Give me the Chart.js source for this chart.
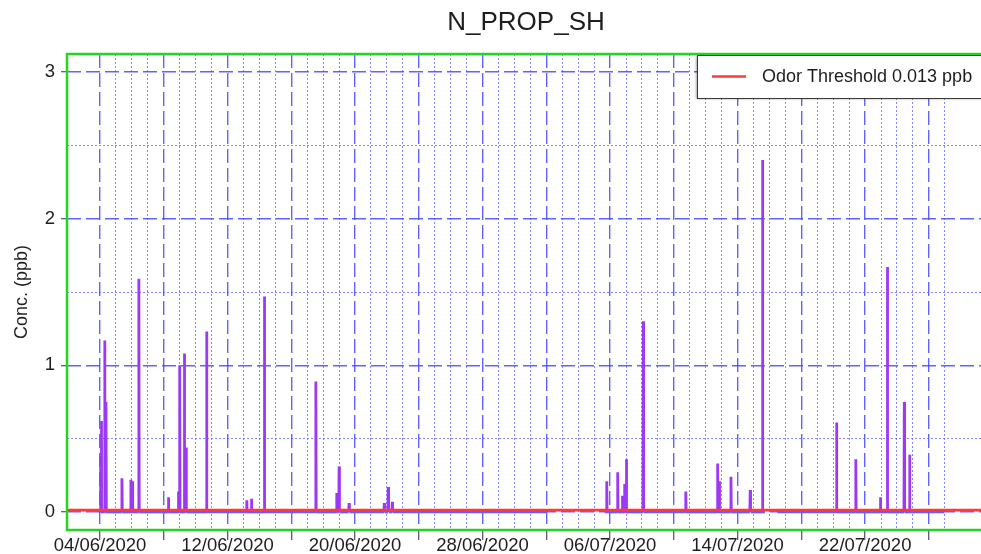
<!DOCTYPE html>
<html>
<head>
<meta charset="utf-8">
<script src="https://cdn.jsdelivr.net/npm/chart.js@4.4.1/dist/chart.umd.min.js"></script>
<style>
html,body{margin:0;padding:0;overflow:hidden;background:#fff;}
#wrap{width:1052px;height:554px;}
canvas{display:block;}
</style>
</head>
<body>
<div id="wrap"><canvas id="c" width="1052" height="554"></canvas></div>
<script>
// ---------- data ----------
const chartTitle = 'N_PROP_SH';
const yAxisTitle = 'Conc. (ppb)';
const thresholdLabel = 'Odor Threshold 0.013 ppb';
const thresholdValue = 0.013;
// x axis in hours since 04/06/2020 00:00
const dateLabels = ['04/06/2020','12/06/2020','20/06/2020','28/06/2020','06/07/2020','14/07/2020','22/07/2020'];
const labelEveryDays = 8;
const majorEveryDays = 4;
const gridLastDay = 53;
const yTickValues = [0, 0.5, 1, 1.5, 2, 2.5, 3];
const recordStartHour = 0;
const recordEndHour = 1271;
const gapStartHours = [673, 1001];
const gapEndHours = [760, 1020];
const spikeHours = [1, 2, 7, 9, 33, 46.5, 49, 58.5, 103, 118, 120, 127, 129.5, 160.5, 221, 228, 247.5, 325, 356.5, 360, 375, 428, 434, 440, 763, 779.5, 786.5, 790, 792.5, 818, 882, 930, 932.5, 950, 979, 997.5, 1109, 1138, 1175, 1185.5, 1211, 1219];
const spikeValues = [0.38, 0.62, 1.17, 0.75, 0.23, 0.22, 0.21, 1.59, 0.10, 0.14, 1.00, 1.08, 0.44, 1.23, 0.08, 0.09, 1.47, 0.89, 0.13, 0.31, 0.06, 0.06, 0.17, 0.07, 0.21, 0.27, 0.11, 0.19, 0.36, 1.30, 0.14, 0.33, 0.21, 0.24, 0.15, 2.40, 0.61, 0.36, 0.10, 1.67, 0.75, 0.39];
const xMinHour = -49.7;
const xMaxHour = 1332.5;
const yMin = -0.123;
const yMax = 3.123;

// ---------- build series ----------
const events = [];
spikeHours.forEach((h, i) => events.push({h: h, type: 's', v: spikeValues[i]}));
gapStartHours.forEach((h, i) => events.push({h: h, type: 'g', e: gapEndHours[i]}));
events.sort((a, b) => a.h - b.h);
const seriesPts = [{x: recordStartHour, y: 0}];
for (const ev of events) {
  if (ev.type === 's') {
    seriesPts.push({x: ev.h - 0.5, y: 0}, {x: ev.h, y: ev.v}, {x: ev.h + 0.5, y: 0});
  } else {
    seriesPts.push({x: ev.h, y: 0}, {x: (ev.h + ev.e) / 2, y: null}, {x: ev.e, y: 0});
  }
}
seriesPts.push({x: recordEndHour, y: 0});

// ---------- styles ----------
const FONT = "'Liberation Sans', Arial, sans-serif";
const TEXT = '#1e1e1e';
const MAJOR_GRID = 'rgba(70,70,255,0.85)';
const MINOR_GRID = 'rgba(90,90,255,0.72)';
const SPIKE = '#9d38f5';
const BASE = '#5e5eff';
const RED = '#ff3838';
const GREEN = '#22d622';

const isMajorX = v => Math.abs((v / 24) % majorEveryDays) < 1e-6;
const isMajorY = v => Math.abs(v - Math.round(v)) < 1e-6;

const framePlugin = {
  id: 'frameAndLegend',
  afterDatasetsDraw(chart) {
    const a = chart.chartArea, ctx = chart.ctx;
    ctx.save();
    ctx.strokeStyle = GREEN;
    ctx.lineWidth = 2.5;
    ctx.strokeRect(a.left, a.top, a.right - a.left, a.bottom - a.top);
    // legend box
    const ds = chart.data.datasets[0];
    const bx = a.right - 288, by = a.top + 1, bw = 320, bh = 43;
    ctx.shadowColor = 'rgba(0,0,0,0.35)';
    ctx.shadowBlur = 2;
    ctx.shadowOffsetX = -1;
    ctx.shadowOffsetY = 1;
    ctx.fillStyle = '#fff';
    ctx.fillRect(bx, by, bw, bh);
    ctx.shadowColor = 'transparent';
    ctx.strokeStyle = '#3a3a3a';
    ctx.lineWidth = 1;
    ctx.strokeRect(bx + 0.5, by + 0.5, bw, bh);
    ctx.strokeStyle = ds.borderColor;
    ctx.lineWidth = 2.5;
    ctx.beginPath();
    ctx.moveTo(bx + 15, by + 21.5);
    ctx.lineTo(bx + 49, by + 21.5);
    ctx.stroke();
    ctx.fillStyle = TEXT;
    ctx.font = '18px ' + FONT;
    ctx.textBaseline = 'middle';
    ctx.textAlign = 'left';
    ctx.fillText(ds.label, bx + 65, by + 22.5);
    ctx.restore();
  }
};

new Chart(document.getElementById('c'), {
  type: 'line',
  data: {
    datasets: [
      {
        label: thresholdLabel,
        data: [{x: xMinHour, y: thresholdValue}, {x: xMaxHour, y: thresholdValue}],
        borderColor: RED,
        borderWidth: 2.8,
        pointRadius: 0,
        fill: false
      },
      {
        label: chartTitle,
        data: seriesPts,
        borderColor: SPIKE,
        borderWidth: 2.8,
        borderJoinStyle: 'bevel',
        pointRadius: 0,
        spanGaps: false,
        tension: 0,
        fill: false,
        segment: {
          borderColor: ctx => (ctx.p0.parsed.y === 0 && ctx.p1.parsed.y === 0) ? BASE : SPIKE
        }
      }
    ]
  },
  options: {
    responsive: false,
    animation: false,
    devicePixelRatio: 1,
    layout: {padding: 0},
    plugins: {
      legend: {display: false},
      tooltip: {enabled: false},
      title: {
        display: true,
        text: chartTitle,
        color: TEXT,
        font: {family: FONT, size: 26, weight: 'normal', lineHeight: 1.2},
        padding: {top: 7, bottom: 15.8}
      }
    },
    scales: {
      x: {
        type: 'linear',
        min: xMinHour,
        max: xMaxHour,
        afterBuildTicks: s => {
          const t = [];
          for (let d = 0; d <= gridLastDay; d++) t.push({value: d * 24});
          s.ticks = t;
        },
        afterFit: s => { s.height = 24; },
        ticks: {
          autoSkip: false,
          maxRotation: 0,
          padding: -5,
          color: TEXT,
          font: {family: FONT, size: 18.5},
          callback: v => {
            const d = Math.round(v / 24);
            return d % labelEveryDays === 0 ? (dateLabels[d / labelEveryDays] || '') : '';
          }
        },
        grid: {
          color: c => (c.tick && isMajorX(c.tick.value)) ? MAJOR_GRID : MINOR_GRID,
          lineWidth: c => (c.tick && isMajorX(c.tick.value)) ? 1.4 : 1,
          tickColor: c => (c.tick && isMajorX(c.tick.value)) ? '#4a4a7a' : 'rgba(0,0,0,0)',
          tickLength: 10,
          tickWidth: 1.2
        },
        border: {
          display: false,
          dash: c => c.tick ? (isMajorX(c.tick.value) ? [14, 5] : [2, 2]) : []
        }
      },
      y: {
        type: 'linear',
        position: 'left',
        min: yMin,
        max: yMax,
        afterBuildTicks: s => { s.ticks = yTickValues.map(v => ({value: v})); },
        afterFit: s => { s.width = 67; },
        ticks: {
          padding: 6,
          color: TEXT,
          font: {family: FONT, size: 18.5},
          callback: v => isMajorY(v) ? String(Math.round(v)) : ''
        },
        title: {
          display: true,
          text: yAxisTitle,
          color: TEXT,
          font: {family: FONT, size: 18},
          padding: {top: 11, bottom: 0}
        },
        grid: {
          color: c => (c.tick && isMajorY(c.tick.value)) ? MAJOR_GRID : MINOR_GRID,
          lineWidth: c => (c.tick && isMajorY(c.tick.value)) ? 1.4 : 1,
          tickColor: c => (c.tick && isMajorY(c.tick.value)) ? '#555' : 'rgba(0,0,0,0)',
          tickLength: 6,
          tickWidth: 1.2
        },
        border: {
          display: false,
          dash: c => c.tick ? (isMajorY(c.tick.value) ? [14, 5] : [2, 2]) : []
        }
      },
      yR: {
        type: 'linear',
        position: 'right',
        display: true,
        grid: {display: false, drawTicks: false},
        border: {display: false},
        ticks: {display: false},
        afterFit: s => { s.width = 67; }
      }
    }
  },
  plugins: [framePlugin]
});
</script>
</body>
</html>
